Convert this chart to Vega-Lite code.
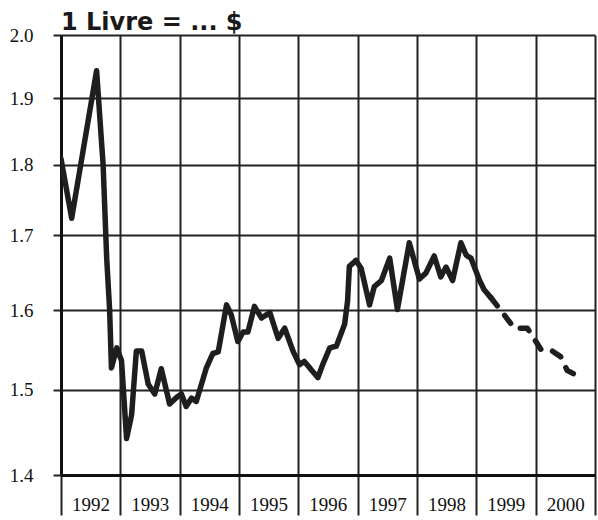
{
  "$schema": "https://vega.github.io/schema/vega-lite/v6.json",
  "width": 534,
  "height": 440,
  "autosize": "none",
  "padding": {"left": 61, "top": 35, "right": 3, "bottom": 45},
  "background": "white",
  "title": {
    "text": "1 Livre = ... $",
    "anchor": "start",
    "frame": "group",
    "offset": -9,
    "font": "DejaVu Sans",
    "fontSize": 24,
    "fontWeight": "bold",
    "color": "#1a1a1a"
  },
  "config": {
    "view": {"stroke": null},
    "axis": {"labelFont": "Liberation Serif", "labelColor": "#111", "labelFontSize": 19}
  },
  "data": {
    "values": [
      {"t": 1992.0, "v": 1.809, "s": "actual"},
      {"t": 1992.18, "v": 1.724, "s": "actual"},
      {"t": 1992.6, "v": 1.943, "s": "actual"},
      {"t": 1992.71, "v": 1.8, "s": "actual"},
      {"t": 1992.77, "v": 1.669, "s": "actual"},
      {"t": 1992.82, "v": 1.6, "s": "actual"},
      {"t": 1992.85, "v": 1.527, "s": "actual"},
      {"t": 1992.94, "v": 1.552, "s": "actual"},
      {"t": 1993.02, "v": 1.536, "s": "actual"},
      {"t": 1993.105, "v": 1.442, "s": "actual"},
      {"t": 1993.19, "v": 1.47, "s": "actual"},
      {"t": 1993.27, "v": 1.548, "s": "actual"},
      {"t": 1993.36, "v": 1.548, "s": "actual"},
      {"t": 1993.47, "v": 1.507, "s": "actual"},
      {"t": 1993.58, "v": 1.495, "s": "actual"},
      {"t": 1993.69, "v": 1.526, "s": "actual"},
      {"t": 1993.83, "v": 1.483, "s": "actual"},
      {"t": 1993.95, "v": 1.491, "s": "actual"},
      {"t": 1994.03, "v": 1.495, "s": "actual"},
      {"t": 1994.11, "v": 1.48, "s": "actual"},
      {"t": 1994.2, "v": 1.49, "s": "actual"},
      {"t": 1994.28, "v": 1.486, "s": "actual"},
      {"t": 1994.45, "v": 1.527, "s": "actual"},
      {"t": 1994.56, "v": 1.545, "s": "actual"},
      {"t": 1994.65, "v": 1.547, "s": "actual"},
      {"t": 1994.79, "v": 1.607, "s": "actual"},
      {"t": 1994.87, "v": 1.594, "s": "actual"},
      {"t": 1994.98, "v": 1.56, "s": "actual"},
      {"t": 1995.07, "v": 1.572, "s": "actual"},
      {"t": 1995.15, "v": 1.572, "s": "actual"},
      {"t": 1995.26, "v": 1.605, "s": "actual"},
      {"t": 1995.38, "v": 1.59, "s": "actual"},
      {"t": 1995.52, "v": 1.597, "s": "actual"},
      {"t": 1995.66, "v": 1.564, "s": "actual"},
      {"t": 1995.77, "v": 1.577, "s": "actual"},
      {"t": 1995.91, "v": 1.548, "s": "actual"},
      {"t": 1996.02, "v": 1.531, "s": "actual"},
      {"t": 1996.1, "v": 1.535, "s": "actual"},
      {"t": 1996.33, "v": 1.515, "s": "actual"},
      {"t": 1996.41, "v": 1.531, "s": "actual"},
      {"t": 1996.53, "v": 1.552, "s": "actual"},
      {"t": 1996.64, "v": 1.554, "s": "actual"},
      {"t": 1996.78, "v": 1.582, "s": "actual"},
      {"t": 1996.83, "v": 1.612, "s": "actual"},
      {"t": 1996.86, "v": 1.658, "s": "actual"},
      {"t": 1996.97, "v": 1.666, "s": "actual"},
      {"t": 1997.06, "v": 1.655, "s": "actual"},
      {"t": 1997.2, "v": 1.607, "s": "actual"},
      {"t": 1997.28, "v": 1.631, "s": "actual"},
      {"t": 1997.4, "v": 1.639, "s": "actual"},
      {"t": 1997.54, "v": 1.669, "s": "actual"},
      {"t": 1997.67, "v": 1.601, "s": "actual"},
      {"t": 1997.87, "v": 1.69, "s": "actual"},
      {"t": 1998.04, "v": 1.641, "s": "actual"},
      {"t": 1998.15, "v": 1.649, "s": "actual"},
      {"t": 1998.29, "v": 1.672, "s": "actual"},
      {"t": 1998.4, "v": 1.644, "s": "actual"},
      {"t": 1998.49, "v": 1.657, "s": "actual"},
      {"t": 1998.6, "v": 1.639, "s": "actual"},
      {"t": 1998.74, "v": 1.69, "s": "actual"},
      {"t": 1998.83, "v": 1.673, "s": "actual"},
      {"t": 1998.91, "v": 1.669, "s": "actual"},
      {"t": 1999.05, "v": 1.64, "s": "actual"},
      {"t": 1999.13, "v": 1.627, "s": "actual"},
      {"t": 1999.25, "v": 1.616, "s": "actual"},
      {"t": 1999.25, "v": 1.616, "s": "forecast"},
      {"t": 1999.41, "v": 1.6, "s": "forecast"},
      {"t": 1999.53, "v": 1.588, "s": "forecast"},
      {"t": 1999.64, "v": 1.577, "s": "forecast"},
      {"t": 1999.86, "v": 1.577, "s": "forecast"},
      {"t": 1999.97, "v": 1.564, "s": "forecast"},
      {"t": 2000.09, "v": 1.55, "s": "forecast"},
      {"t": 2000.28, "v": 1.548, "s": "forecast"},
      {"t": 2000.42, "v": 1.541, "s": "forecast"},
      {"t": 2000.53, "v": 1.524, "s": "forecast"},
      {"t": 2000.68, "v": 1.518, "s": "forecast"}
    ]
  },
  "mark": {"type": "line", "strokeWidth": 5.5, "color": "#1e1e1e", "strokeJoin": "round", "strokeCap": "round", "clip": true},
  "encoding": {
    "x": {
      "field": "t",
      "type": "quantitative",
      "scale": {"domain": [1992, 2001], "nice": false, "zero": false},
      "axis": {
        "title": null,
        "values": [1992, 1993, 1994, 1995, 1996, 1997, 1998, 1999, 2000, 2001],
        "format": "d",
        "labelExpr": "datum.value == 2001 ? '' : datum.label",
        "labelOffset": 29.5,
        "labelPadding": -20,
        "labelOverlap": false,
        "labelBound": false,
        "labelFlush": false,
        "tickSize": 40,
        "tickWidth": 2,
        "tickColor": "#222",
        "domainColor": "#111",
        "domainWidth": 3,
        "grid": true,
        "gridColor": "#222",
        "gridWidth": 2,
        "gridOpacity": 1
      }
    },
    "y": {
      "field": "v",
      "type": "quantitative",
      "scale": {"type": "log", "domain": [1.4, 2.0], "nice": false, "zero": false},
      "axis": {
        "title": null,
        "values": [1.4, 1.5, 1.6, 1.7, 1.8, 1.9, 2.0],
        "format": ".1f",
        "tickSize": 8,
        "tickWidth": 2,
        "tickColor": "#222",
        "labelPadding": 20,
        "domainColor": "#111",
        "domainWidth": 3,
        "grid": true,
        "gridColor": "#222",
        "gridWidth": 2,
        "gridOpacity": 1
      }
    },
    "strokeDash": {
      "field": "s",
      "type": "nominal",
      "scale": {"domain": ["actual", "forecast"], "range": [[1, 0], [10, 12]]},
      "legend": null
    }
  }
}
